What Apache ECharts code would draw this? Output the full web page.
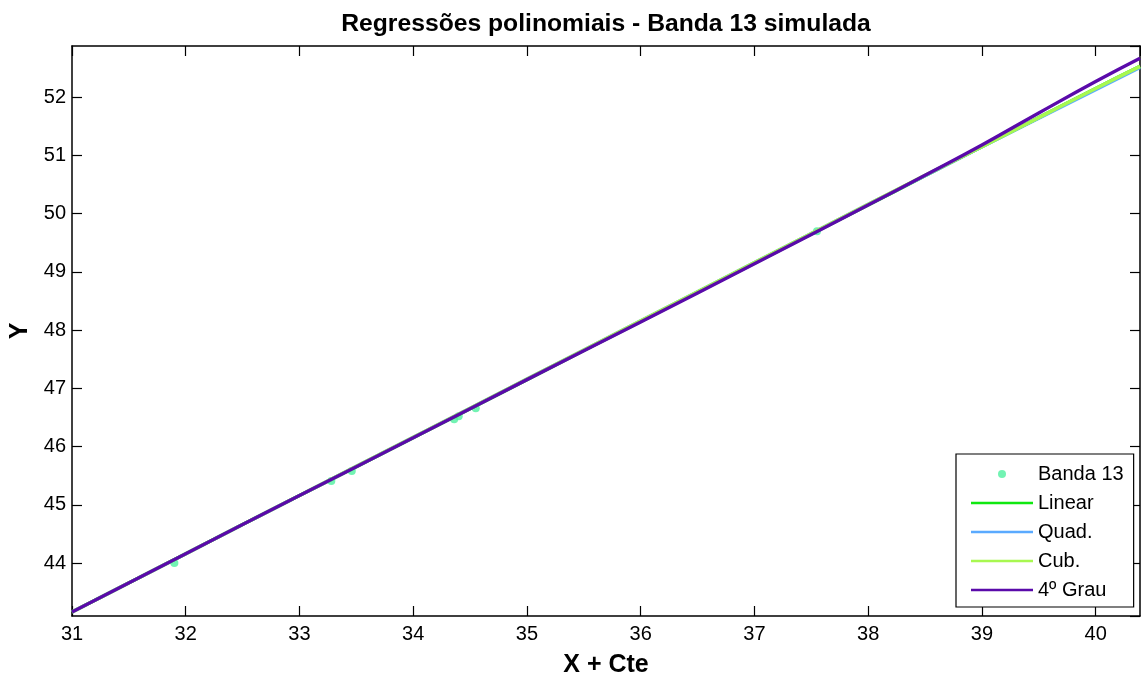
<!DOCTYPE html>
<html>
<head>
<meta charset="utf-8">
<script src="https://cdn.jsdelivr.net/npm/echarts@6/dist/echarts.min.js"></script>
<style>
  html, body { margin: 0; padding: 0; background: #fff; }
  #chart { width: 1141px; height: 678px; }
</style>
</head>
<body>
<div id="chart"></div>
<script>
// Observed samples (Banda 13)
const obsX = [31.90, 33.28, 33.46, 34.36, 34.40, 34.55, 37.55];
const obsY = [44.00, 45.41, 45.58, 46.47, 46.52, 46.66, 49.70];

// Abscissae where the fitted curves are evaluated
const fitX = [31, 32, 33, 34, 35, 36, 37, 38, 38.5, 39, 39.5, 40, 40.39];

// Fitted curves
const linearY = [43.16, 44.16, 45.16, 46.15, 47.15, 48.15, 49.15, 50.15, 50.65, 51.15, 51.65, 52.15, 52.53];
const quadY   = [43.16, 44.16, 45.16, 46.16, 47.16, 48.16, 49.16, 50.16, 50.65, 51.15, 51.64, 52.13, 52.51];
const cubY    = [43.16, 44.16, 45.16, 46.16, 47.16, 48.16, 49.16, 50.16, 50.66, 51.15, 51.65, 52.15, 52.53];
const quartY  = [43.16, 44.16, 45.16, 46.15, 47.15, 48.14, 49.14, 50.15, 50.66, 51.18, 51.73, 52.27, 52.67];

// Axis extents (ticks fall on whole numbers)
const xRange = { min: 31, max: 40.39, splitNumber: 10 };
const yRange = { min: 43.09, max: 52.88, splitNumber: 10 };

const pairs = (xs, ys) => xs.map((x, i) => [x, ys[i]]);

const font = 'Liberation Sans, Arial, sans-serif';
const axisLine = { show: true, lineStyle: { color: '#000', width: 1.5 } };
const axisTick = { show: true, inside: true, length: 10, lineStyle: { color: '#000', width: 1.2 } };

// Legend icons: a short bar for the fits, a small dot for the samples
const barIcon = 'path://M0,0M62,16M0,6.7L62,6.7L62,9.3L0,9.3Z';
const dotIcon = 'path://M0,0M62,16M35,8A4,4,0,1,1,27,8A4,4,0,1,1,35,8Z';

const chart = echarts.init(document.getElementById('chart'), null, { renderer: 'canvas' });

const lineSeries = (name, ys, color) => ({
  name, type: 'line', data: pairs(fitX, ys), symbol: 'none', showSymbol: false, smooth: true,
  lineStyle: { color, width: 3.4 }, itemStyle: { color }, z: 3
});

chart.setOption({
  animation: false,
  backgroundColor: '#fff',
  title: {
    text: 'Regressões polinomiais - Banda 13 simulada',
    left: 601, top: 7, textAlign: 'center',
    textStyle: { fontFamily: font, fontSize: 24.7, fontWeight: 'bold', color: '#000' }
  },
  grid: { left: 72, top: 46, right: 1, bottom: 62, containLabel: false, outerBoundsMode: 'none' },
  legend: {
    orient: 'vertical',
    left: 956, top: 454,
    padding: [10, 10, 7, 15],
    itemWidth: 62, itemHeight: 16, itemGap: 9,
    borderColor: '#000', borderWidth: 1.2, backgroundColor: '#fff',
    textStyle: { fontFamily: font, fontSize: 20, color: '#000' },
    data: [
      { name: 'Banda 13', icon: dotIcon },
      { name: 'Linear', icon: barIcon },
      { name: 'Quad.', icon: barIcon },
      { name: 'Cub.', icon: barIcon },
      { name: '4º Grau', icon: barIcon }
    ]
  },
  xAxis: [
    {
      type: 'value', position: 'bottom', ...xRange,
      name: 'X + Cte', nameLocation: 'middle', nameGap: 37,
      nameTextStyle: { fontFamily: font, fontSize: 25, fontWeight: 'bold', color: '#000' },
      axisLine, axisTick, splitLine: { show: false },
      axisLabel: { fontFamily: font, fontSize: 20, color: '#000', margin: 8, showMaxLabel: false }
    },
    {
      type: 'value', position: 'top', ...xRange,
      axisLine, axisTick, splitLine: { show: false }, axisLabel: { show: false }
    }
  ],
  yAxis: [
    {
      type: 'value', position: 'left', ...yRange,
      name: 'Y', nameLocation: 'middle', nameGap: 32,
      nameTextStyle: { fontFamily: font, fontSize: 25, fontWeight: 'bold', color: '#000' },
      axisLine, axisTick, splitLine: { show: false },
      axisLabel: { fontFamily: font, fontSize: 20, color: '#000', margin: 6, showMinLabel: false, showMaxLabel: false }
    },
    {
      type: 'value', position: 'right', ...yRange,
      axisLine, axisTick, splitLine: { show: false }, axisLabel: { show: false }
    }
  ],
  series: [
    {
      name: 'Banda 13', type: 'scatter', data: pairs(obsX, obsY),
      symbol: 'circle', symbolSize: 8, itemStyle: { color: '#50f0a0' }, z: 2
    },
    lineSeries('Linear', linearY, '#10e810'),
    lineSeries('Quad.', quadY, '#5aaaff'),
    lineSeries('Cub.', cubY, '#a8f850'),
    lineSeries('4º Grau', quartY, '#5a0aaa')
  ]
});
</script>
</body>
</html>
